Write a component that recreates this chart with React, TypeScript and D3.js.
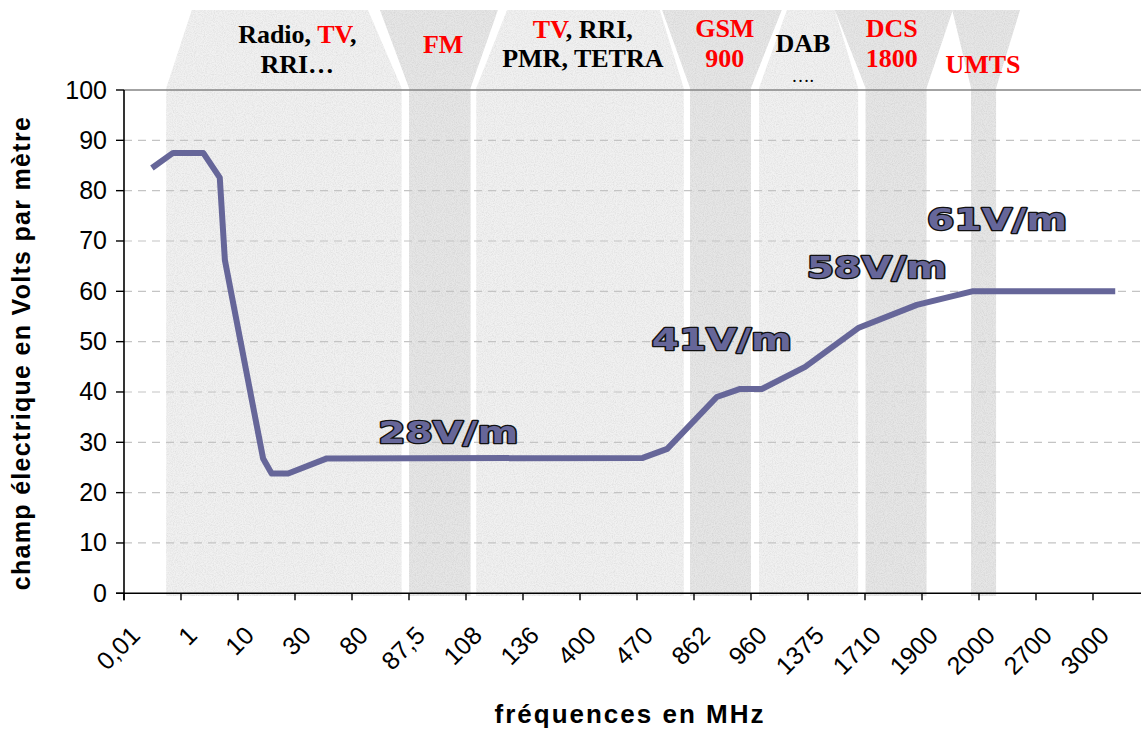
import React, { useEffect, useRef } from 'react';
import * as d3 from 'd3';

// axe des fréquences (MHz) - une catégorie par étiquette
const categories = ['0,01', '1', '10', '30', '80', '87,5', '108', '136', '400', '470', '862', '960', '1375', '1710', '1900', '2000', '2700', '3000'];
const yTicks = [0, 10, 20, 30, 40, 50, 60, 70, 80, 90, 100];

// courbe du champ : position en unités de catégorie, valeur en V/m
const curvePos = [0.49, 0.86, 1.39, 1.68, 1.77, 2.44, 2.59, 2.88, 3.56, 9.1, 9.53, 10.4, 10.81, 11.19, 11.95, 12.88, 13.91, 14.88, 17.39];
const curveVal = [84.5, 87.5, 87.5, 82.6, 66.2, 26.8, 23.8, 23.8, 26.8, 26.9, 28.7, 39, 40.6, 40.6, 45, 52.7, 57.3, 60, 60];

// bandes de services (unités de catégorie)
const bandStart = [0.74, 5.0, 6.18, 9.93, 11.14, 13.01, 14.86];
const bandEnd = [4.87, 6.08, 9.82, 11.0, 12.88, 14.08, 15.3];
const bandTopStart = [1.19, 4.49, 6.72, 9.44, 11.63, 12.47, 14.53];
const bandTopEnd = [4.28, 6.56, 9.4, 11.54, 12.47, 14.54, 15.72];
// {..} = en rouge
const bandLines = [
	['Radio, {TV},', 'RRI…'],
	['{FM}'],
	['{TV}, RRI,', 'PMR, TETRA'],
	['{GSM}', '{900}'],
	['DAB', '….'],
	['{DCS}', '{1800}'],
	['{UMTS}'],
];
const bandLabelPos = [3.04, 5.6, 8.05, 10.54, 11.91, 13.47, 15.07];

// niveaux annoncés
const valueLabels = ['28V/m', '41V/m', '58V/m', '61V/m'];
const valueLabelPos = [4.46, 9.26, 11.98, 14.09];
const valueLabelVal = [29.9, 48.3, 62.6, 72.2];

const App = () => {
	const ref = useRef<SVGSVGElement>(null);
	useEffect(() => drawChart(), []);

	function drawChart() {
		const svg = d3.select(ref.current);
		svg.selectAll('*').remove();
		const catW = 57;
		const left = 124;
		const x = d3.scaleLinear().domain([0, categories.length]).range([left, left + catW * categories.length]);
		const y = d3.scaleLinear().domain([0, 100]).range([593.3, 90]);
		const sans = '"Liberation Sans", Arial, sans-serif';
		const serif = '"Liberation Serif", "Times New Roman", serif';

		// texture grain
		const defs = svg.append('defs');
		const f = defs.append('filter').attr('id', 'grain').attr('x', 0).attr('y', 0).attr('width', 1).attr('height', 1);
		f.append('feTurbulence').attr('type', 'fractalNoise').attr('baseFrequency', 0.9).attr('numOctaves', 2).attr('seed', 4).attr('result', 'noise');
		f.append('feColorMatrix').attr('in', 'noise').attr('type', 'matrix')
			.attr('values', '0 0 0 0 0  0 0 0 0 0  0 0 0 0 0  0.3 0 0 0 -0.11').attr('result', 'speck');
		f.append('feComposite').attr('in', 'speck').attr('in2', 'SourceAlpha').attr('operator', 'in').attr('result', 'speckClip');
		const m = f.append('feMerge');
		m.append('feMergeNode').attr('in', 'SourceGraphic');
		m.append('feMergeNode').attr('in', 'speckClip');

		// bandes
		bandStart.forEach((s, i) => {
			const dark = bandTopEnd[i] - bandTopStart[i] > bandEnd[i] - s;
			const pts: [number, number][] = [
				[x(bandTopStart[i]), 10], [x(bandTopEnd[i]), 10], [x(bandEnd[i]), 88],
				[x(bandEnd[i]), 596], [x(s), 596], [x(s), 88],
			];
			svg.append('polygon')
				.attr('points', pts.map(p => p.join(',')).join(' '))
				.attr('fill', dark ? '#e6e6e6' : '#f1f1f1')
				.attr('filter', 'url(#grain)');
		});

		// grille
		svg.selectAll('line.grid')
			.data(yTicks.filter(t => t > 0 && t < 100))
			.enter()
			.append('line')
			.attr('x1', left).attr('x2', 1141)
			.attr('y1', d => y(d)).attr('y2', d => y(d))
			.attr('stroke', '#c4c4c4').attr('stroke-width', 1.2)
			.attr('stroke-dasharray', '8,6');
		svg.append('line')
			.attr('x1', left).attr('x2', 1141).attr('y1', y(100)).attr('y2', y(100))
			.attr('stroke', '#858585').attr('stroke-width', 1.6);

		// axe Y
		svg.append('line').attr('x1', left).attr('x2', left).attr('y1', y(100)).attr('y2', y(0) + 7)
			.attr('stroke', '#000').attr('stroke-width', 1.6);
		svg.selectAll('line.ytick')
			.data(yTicks)
			.enter()
			.append('line')
			.attr('x1', left - 8).attr('x2', left)
			.attr('y1', d => y(d)).attr('y2', d => y(d))
			.attr('stroke', '#000').attr('stroke-width', 1.4);
		svg.selectAll('text.ylab')
			.data(yTicks)
			.enter()
			.append('text')
			.text(d => d)
			.attr('x', left - 17).attr('y', d => y(d) + 8.5)
			.attr('text-anchor', 'end')
			.attr('font-family', sans).attr('font-size', '25px').attr('fill', '#000');

		// axe X
		svg.append('line').attr('x1', left - 8).attr('x2', 1141).attr('y1', y(0)).attr('y2', y(0))
			.attr('stroke', '#000').attr('stroke-width', 1.6);
		svg.selectAll('line.xtick')
			.data(d3.range(categories.length + 1))
			.enter()
			.append('line')
			.attr('x1', d => x(d)).attr('x2', d => x(d))
			.attr('y1', y(0)).attr('y2', y(0) + 7)
			.attr('stroke', '#000').attr('stroke-width', 1.4);
		svg.selectAll('text.xlab')
			.data(categories)
			.enter()
			.append('text')
			.text(d => d)
			.attr('transform', (d, i) => 'translate(' + (x(i + 0.5) - 11) + ',637) rotate(-45)')
			.attr('text-anchor', 'end')
			.attr('font-family', sans).attr('font-size', '25px').attr('fill', '#000');

		// titres
		svg.append('text')
			.text('fréquences en MHz')
			.attr('x', 630).attr('y', 723)
			.attr('text-anchor', 'middle')
			.attr('font-family', sans).attr('font-weight', 'bold').attr('font-size', '26px')
			.attr('letter-spacing', '2px').attr('fill', '#000');
		svg.append('text')
			.text('champ électrique en Volts par mètre')
			.attr('transform', 'translate(30,353) rotate(-90)')
			.attr('text-anchor', 'middle')
			.attr('font-family', sans).attr('font-weight', 'bold').attr('font-size', '25px')
			.attr('letter-spacing', '1.3px').attr('fill', '#000');

		// courbe
		const line = d3.line<number>().x((d, i) => x(curvePos[i])).y(d => y(d));
		svg.append('path')
			.attr('d', line(curveVal))
			.attr('fill', 'none')
			.attr('stroke', '#666699')
			.attr('stroke-width', 6)
			.attr('stroke-linejoin', 'round');

		// étiquettes des bandes
		const lineY = [[43, 73], [53], [38, 67], [37, 67], [52, 82], [37, 67], [73]];
		bandLines.forEach((lines, i) => {
			lines.forEach((ln, j) => {
				const t = svg.append('text')
					.attr('x', x(bandLabelPos[i])).attr('y', lineY[i][j])
					.attr('text-anchor', 'middle')
					.attr('font-family', serif).attr('font-weight', ln === '….' ? 'normal' : 'bold')
					.attr('font-size', ln === '….' ? '18px' : '26px');
				ln.split(/(\{[^}]*\})/).filter(p => p.length).forEach(p => {
					const red = p.startsWith('{');
					t.append('tspan').text(red ? p.slice(1, -1) : p).attr('fill', red ? '#ff0000' : '#000');
				});
			});
		});

		// niveaux
		svg.selectAll('text.level')
			.data(valueLabels)
			.enter()
			.append('text')
			.text(d => d)
			.attr('x', (d, i) => x(valueLabelPos[i]))
			.attr('y', (d, i) => y(valueLabelVal[i]))
			.attr('textLength', 140)
			.attr('lengthAdjust', 'spacingAndGlyphs')
			.attr('font-family', '"DejaVu Sans", sans-serif').attr('font-weight', 'bold').attr('font-size', '31px')
			.attr('fill', '#666699')
			.attr('stroke', '#111').attr('stroke-width', 2.6)
			.attr('paint-order', 'stroke')
			.attr('stroke-linejoin', 'round');
	}

	return <svg ref={ref} width={1141} height={731} style={{ position: 'absolute', left: 0, top: 0, background: '#fff' }}></svg>;
};

export default App;
